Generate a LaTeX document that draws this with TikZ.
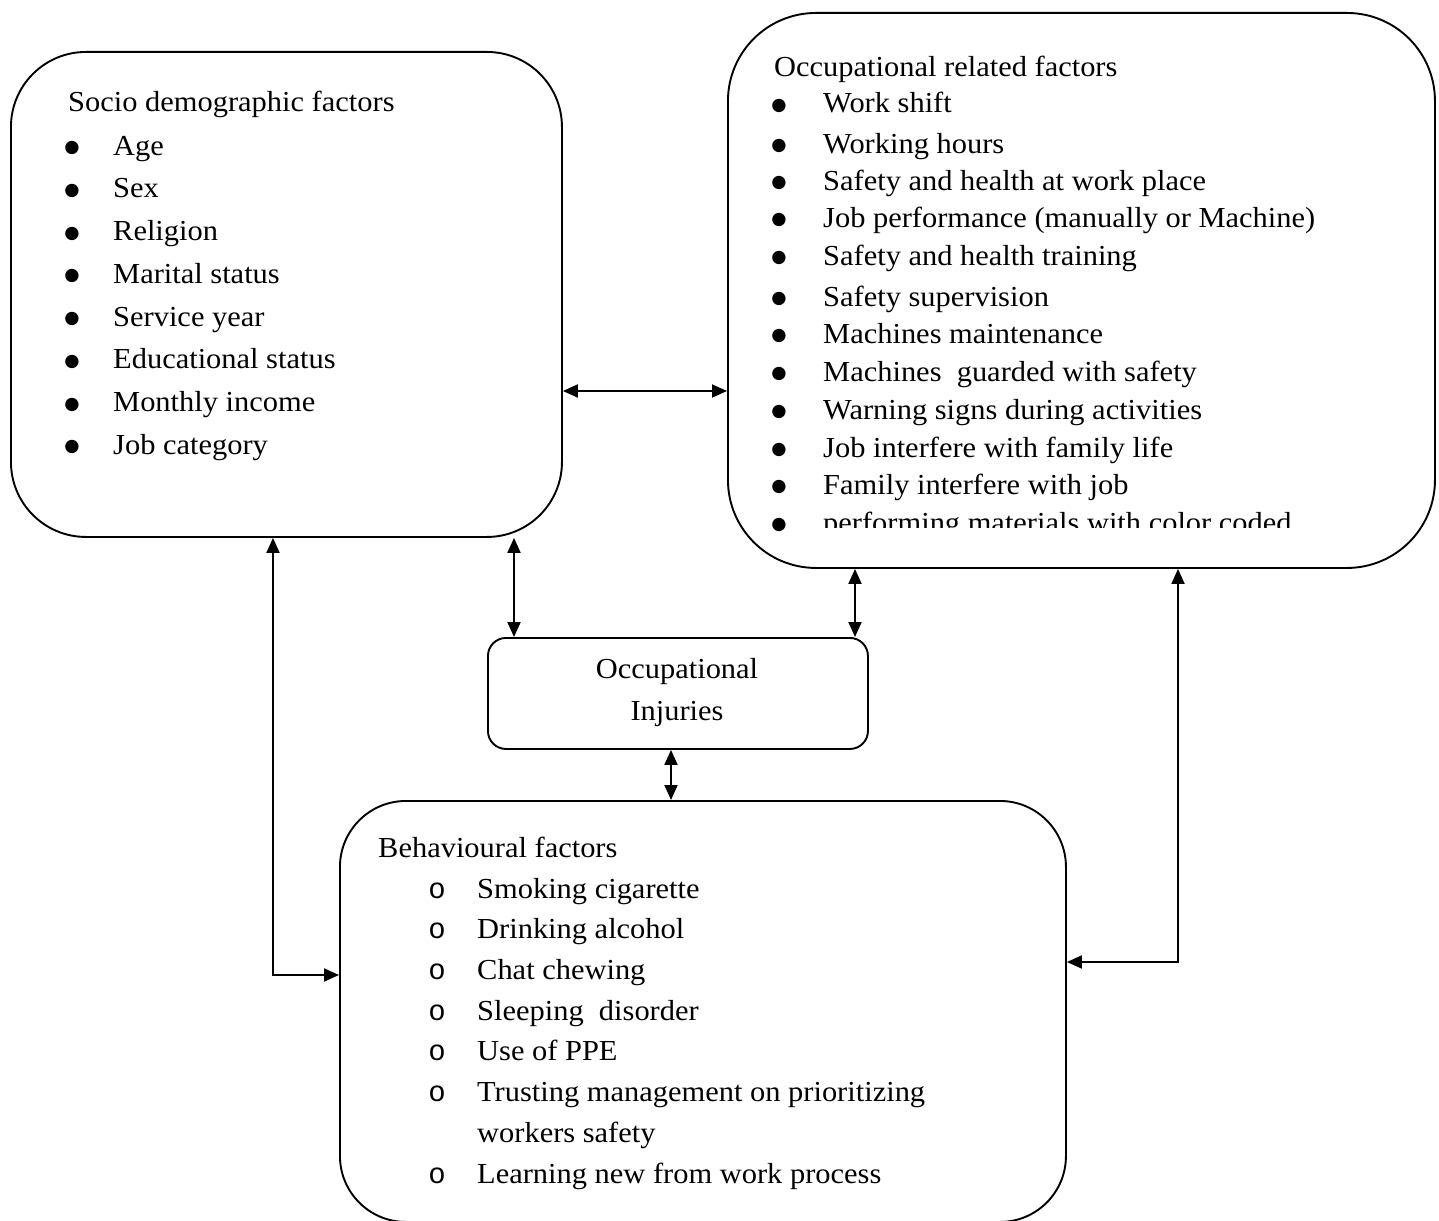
\documentclass[tikz,border=0pt]{standalone}
\usepackage{fontspec}
\setmainfont{Liberation Serif}[FakeStretch=1.05]
\newfontfamily\monofnt{Liberation Mono}
\newfontfamily\symfnt{DejaVu Sans}
\usetikzlibrary{arrows.meta}
\begin{document}
\begin{tikzpicture}[x=1pt,y=-1pt,
  box/.style={draw, line width=1.9pt, inner sep=0pt, anchor=north west},
  txt/.style={inner sep=0pt, anchor=base west, font=\fontsize{29}{34}\selectfont},
  ctxt/.style={inner sep=0pt, anchor=base, font=\fontsize{29}{34}\selectfont},
  bullet/.style={inner sep=0pt, anchor=base, font=\symfnt\fontsize{17.5}{17.5}\selectfont},
  link/.style={line width=1.9pt, {Triangle[length=15pt,width=13pt]}-{Triangle[length=15pt,width=13pt]}},
]
\clip (0,0) rectangle (1439,1220);
\fill[white] (0,0) rectangle (1439,1220);

% boxes
\node[box, rounded corners=75pt, minimum width=551pt, minimum height=485pt] (socio) at (10,51) {};
\node[box, rounded corners=88pt, minimum width=707pt, minimum height=555pt] (occ) at (727,12) {};
\node[box, rounded corners=18pt, minimum width=380pt, minimum height=111pt] (inj) at (487,637) {};
\node[box, rounded corners=66pt, minimum width=726pt, minimum height=421pt] (beh) at (339,800) {};

% socio demographic text
\node[txt] (stitle) at (68,112) {Socio demographic factors};
\foreach \t [count=\i from 0] in {Age,Sex,Religion,Marital status,Service year,Educational status,Monthly income,Job category}{
  \node[bullet] (sb\i) at (72,{152.5+42.75*\i}) {●};
  \node[txt] (s\i) at (113,{155+42.75*\i}) {\t};
}

% occupational text
\node[txt] (otitle) at (774,77) {Occupational related factors};
\foreach \yy/\t [count=\i] in {113/Work shift,153/Working hours,190/Safety and health at work place,227/Job performance (manually or Machine),265/Safety and health training,306/Safety supervision,343/Machines maintenance,381/Machines~ guarded with safety,419/Warning signs during activities,457/Job interfere with family life,494/Family interfere with job}{
  \node[bullet] (ob\i) at (779,\yy-2.5) {●};
  \node[txt] (o\i) at (823,\yy) {\t};
}
\node[bullet] (ob12) at (779,529.5) {●};
\begin{scope}
  \clip (790,0) rectangle (1430,527);
  \node[txt] (o12) at (823,532) {performing materials with color coded};
\end{scope}

% injuries text
\node[ctxt] (i1) at (677,678) {Occupational};
\node[ctxt] (i2) at (677,720) {Injuries};

% behavioural text
\node[txt] (btitle) at (378,857) {Behavioural factors};
\foreach \yy/\t [count=\i] in {898/Smoking cigarette,938.7/Drinking alcohol,979.4/Chat chewing,1020/Sleeping~ disorder,1060.8/Use of PPE,1101.5/Trusting management on prioritizing,1183/Learning new from work process}{
  \node[ctxt] (bb\i) at (437,\yy) {\monofnt o};
  \node[txt] (b\i) at (477,\yy) {\t};
}
\node[txt] (b6b) at (477,1142) {workers safety};

% helper coordinates
\coordinate (yH) at (0,391);
\coordinate (x1) at (514,0);
\coordinate (x2) at (855,0);
\coordinate (x3) at (671,0);
\coordinate (xl) at (273,0);
\coordinate (yl) at (0,975);
\coordinate (xr) at (1178,0);
\coordinate (yr) at (0,962);

% connectors
\draw[link] (socio.east |- yH) -- (occ.west |- yH);
\draw[link] (socio.south -| x1) -- (inj.north -| x1);
\draw[link] (occ.south -| x2) -- (inj.north -| x2);
\draw[link] (inj.south -| x3) -- (beh.north -| x3);
\draw[link] (socio.south -| xl) |- (beh.west |- yl);
\draw[link] (occ.south -| xr) |- (beh.east |- yr);
\end{tikzpicture}
\end{document}
